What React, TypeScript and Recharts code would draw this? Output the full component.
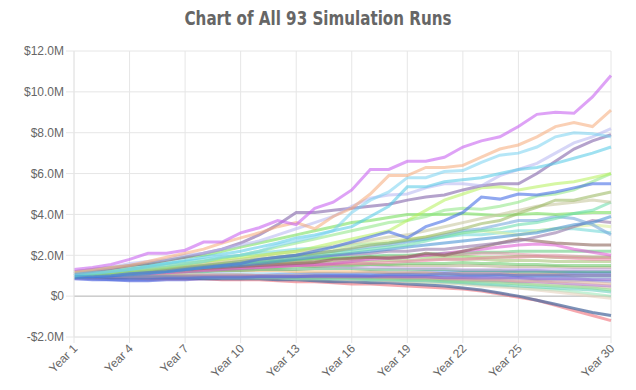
import React from "react";
import { LineChart, Line, XAxis, YAxis, CartesianGrid, ReferenceLine } from "recharts";

const YEARS = [1, 2, 3, 4, 5, 6, 7, 8, 9, 10, 11, 12, 13, 14, 15, 16, 17, 18, 19, 20, 21, 22, 23, 24, 25, 26, 27, 28, 29, 30];
const X_TICKS = [1, 4, 7, 10, 13, 16, 19, 22, 25, 30];
const Y_TICKS = [-2, 0, 2, 4, 6, 8, 10, 12];

// values in $M, one array per simulation run
const RUN_VIOLET = [1.3, 1.4, 1.55, 1.8, 2.1, 2.1, 2.25, 2.65, 2.65, 3.1, 3.35, 3.7, 3.5, 4.3, 4.6, 5.2, 6.2, 6.2, 6.6, 6.6, 6.8, 7.3, 7.6, 7.8, 8.3, 8.9, 9.0, 8.95, 9.75, 10.8];
const RUN_PEACH = [1.2, 1.3, 1.4, 1.5, 1.7, 1.9, 2.1, 2.3, 2.6, 2.85, 3.1, 3.4, 3.6, 3.3, 3.9, 4.3, 5.0, 5.9, 5.9, 6.3, 6.3, 6.4, 6.8, 7.2, 7.4, 7.8, 8.3, 8.5, 8.3, 9.1];
const RUN_SKY = [1.1, 1.15, 1.2, 1.3, 1.4, 1.5, 1.6, 1.7, 1.9, 2.0, 2.2, 2.5, 2.7, 2.9, 3.2, 4.1, 4.7, 5.1, 5.8, 5.8, 6.1, 6.15, 6.55, 6.9, 7.0, 7.3, 7.8, 8.0, 7.95, 7.8];
const RUN_CYAN = [1.0, 1.1, 1.2, 1.3, 1.45, 1.6, 1.75, 1.9, 2.05, 2.2, 2.4, 2.6, 2.85, 3.0, 3.2, 3.4, 3.9, 4.4, 5.35, 5.35, 5.6, 5.7, 5.8, 6.0, 6.2, 6.3, 6.5, 6.75, 7.0, 7.3];
const RUN_LAVENDER = [1.2, 1.3, 1.4, 1.6, 1.7, 1.8, 2.0, 2.1, 2.3, 2.5, 2.7, 3.0, 3.3, 3.6, 3.9, 4.4, 4.8, 4.95, 5.0, 5.3, 5.5, 5.5, 5.4, 5.9, 6.2, 6.5, 7.0, 7.5, 7.8, 8.2];
const RUN_GREYPURPLE = [1.1, 1.2, 1.35, 1.5, 1.6, 1.75, 1.9, 2.1, 2.3, 2.6, 3.0, 3.5, 4.1, 4.1, 4.2, 4.3, 4.4, 4.5, 4.7, 4.85, 4.95, 5.2, 5.4, 5.5, 5.5, 6.0, 6.6, 7.2, 7.6, 7.9];
const RUN_BLUE = [1.0, 0.95, 1.0, 1.1, 1.15, 1.2, 1.3, 1.4, 1.5, 1.6, 1.8, 1.9, 2.0, 2.2, 2.4, 2.65, 2.9, 3.15, 2.85, 3.4, 3.7, 4.1, 4.85, 4.75, 5.0, 4.95, 5.1, 5.3, 5.5, 5.5];
const RUN_LIME = [1.1, 1.15, 1.2, 1.3, 1.4, 1.5, 1.6, 1.7, 1.8, 1.9, 2.0, 2.1, 2.2, 2.4, 2.6, 2.8, 3.0, 3.2, 3.7, 4.2, 4.7, 5.0, 5.3, 5.35, 5.2, 5.35, 5.5, 5.6, 5.8, 6.0];
const RUN_LIGHTGREEN = [1.0, 1.05, 1.1, 1.2, 1.3, 1.4, 1.55, 1.7, 1.85, 2.0, 2.2, 2.4, 2.6, 2.8, 3.0, 3.2, 3.4, 3.6, 3.7, 3.9, 4.2, 4.3, 4.25, 4.4, 4.6, 4.9, 5.0, 5.2, 5.6, 6.0];
const RUN_OLIVE = [1.0, 1.05, 1.1, 1.15, 1.2, 1.3, 1.4, 1.5, 1.6, 1.7, 1.8, 1.9, 2.0, 2.1, 2.2, 2.35, 2.5, 2.6, 2.75, 2.9, 3.1, 3.3, 3.55, 3.7, 4.05, 4.35, 4.7, 4.7, 4.9, 5.1];
const RUN_KHAKI = [1.1, 1.1, 1.15, 1.2, 1.3, 1.4, 1.5, 1.6, 1.7, 1.8, 1.95, 2.1, 2.2, 2.3, 2.45, 2.6, 2.75, 2.9, 3.0, 3.2, 3.4, 3.6, 3.8, 4.0, 4.2, 4.4, 4.5, 4.6, 4.7, 4.6];
const RUN_TEAL = [1.0, 1.0, 1.05, 1.1, 1.15, 1.2, 1.3, 1.4, 1.5, 1.6, 1.7, 1.8, 1.9, 2.0, 2.1, 2.2, 2.3, 2.4, 2.5, 2.7, 2.9, 3.1, 3.2, 3.3, 3.5, 3.6, 3.8, 4.05, 4.2, 4.6];
const RUN_GREEN = [1.2, 1.3, 1.4, 1.5, 1.6, 1.75, 1.9, 2.0, 2.2, 2.4, 2.6, 2.8, 3.0, 3.2, 3.4, 3.6, 3.7, 3.85, 4.0, 4.0, 4.0, 4.05, 4.0, 3.95, 4.0, 4.05, 4.0, 4.05, 4.1, 4.1];
const RUN_STEEL = [1.0, 1.05, 1.1, 1.15, 1.2, 1.3, 1.4, 1.5, 1.6, 1.7, 1.8, 1.9, 2.0, 2.1, 2.2, 2.3, 2.4, 2.5, 2.65, 2.8, 3.0, 3.2, 3.3, 3.5, 3.7, 3.7, 3.9, 3.8, 3.5, 3.0];
const RUN_MIDBLUE = [0.9, 0.95, 1.0, 1.05, 1.1, 1.2, 1.3, 1.4, 1.45, 1.5, 1.6, 1.7, 1.8, 1.9, 2.0, 2.1, 2.2, 2.3, 2.4, 2.5, 2.6, 2.7, 2.8, 2.9, 3.0, 3.1, 3.3, 3.5, 3.6, 3.9];
const RUN_MAUVE = [1.1, 1.1, 1.15, 1.2, 1.25, 1.3, 1.4, 1.45, 1.5, 1.6, 1.7, 1.8, 1.9, 1.95, 2.0, 2.05, 2.1, 2.2, 2.2, 2.3, 2.3, 2.4, 2.5, 2.6, 2.7, 2.9, 3.1, 3.4, 3.7, 3.6];
const RUN_BROWN = [1.1, 1.1, 1.1, 1.15, 1.2, 1.25, 1.3, 1.35, 1.4, 1.45, 1.5, 1.55, 1.6, 1.65, 1.8, 1.85, 1.9, 1.85, 1.9, 2.1, 2.0, 2.2, 2.4, 2.6, 2.8, 2.7, 2.6, 2.55, 2.5, 2.5];
const RUN_MAGENTA = [1.0, 1.0, 1.05, 1.1, 1.1, 1.15, 1.2, 1.25, 1.3, 1.35, 1.4, 1.45, 1.5, 1.55, 1.6, 1.7, 1.8, 1.85, 1.9, 2.0, 2.1, 2.2, 2.3, 2.4, 2.5, 2.55, 2.5, 2.3, 2.15, 2.0];
const RUN_PALELIME = [1.2, 1.2, 1.25, 1.3, 1.35, 1.4, 1.5, 1.6, 1.7, 1.8, 1.9, 2.0, 2.1, 2.2, 2.3, 2.5, 2.6, 2.7, 2.8, 2.9, 3.0, 3.1, 3.2, 3.1, 3.0, 3.2, 3.3, 3.4, 3.5, 3.4];
const RUN_AQUA = [1.1, 1.2, 1.3, 1.4, 1.5, 1.6, 1.7, 1.8, 1.9, 2.0, 2.1, 2.2, 2.3, 2.35, 2.4, 2.5, 2.55, 2.6, 2.7, 2.8, 2.9, 3.0, 3.0, 3.1, 3.2, 3.2, 3.3, 3.3, 3.2, 3.1];
const RUN_PINK = [1.1, 1.1, 1.15, 1.2, 1.2, 1.25, 1.3, 1.3, 1.35, 1.4, 1.4, 1.45, 1.5, 1.5, 1.55, 1.6, 1.6, 1.65, 1.7, 1.75, 1.8, 1.8, 1.85, 1.9, 1.9, 1.95, 1.9, 1.85, 1.8, 1.8];
const RUN_FOREST = [1.0, 1.05, 1.1, 1.15, 1.2, 1.2, 1.25, 1.3, 1.3, 1.35, 1.4, 1.4, 1.45, 1.45, 1.5, 1.5, 1.55, 1.55, 1.6, 1.6, 1.6, 1.65, 1.6, 1.6, 1.55, 1.55, 1.5, 1.5, 1.5, 1.5];
const RUN_ROYAL = [0.9, 0.85, 0.8, 0.8, 0.8, 0.85, 0.85, 0.9, 0.9, 0.9, 0.95, 0.95, 0.95, 1.0, 1.0, 1.0, 1.0, 1.05, 1.05, 1.05, 1.1, 1.05, 1.05, 1.05, 1.0, 1.0, 1.0, 1.0, 1.0, 1.0];
const RUN_PURPLE = [1.0, 1.0, 0.95, 0.95, 0.95, 0.95, 0.95, 0.95, 0.95, 0.95, 0.95, 0.95, 0.95, 0.95, 0.95, 0.95, 0.95, 0.95, 0.95, 0.95, 0.9, 0.9, 0.9, 0.9, 0.9, 0.85, 0.85, 0.85, 0.8, 0.8];
const RUN_TAN = [1.1, 1.1, 1.1, 1.1, 1.1, 1.1, 1.05, 1.05, 1.05, 1.05, 1.0, 1.0, 1.0, 1.0, 0.95, 0.95, 0.95, 0.9, 0.9, 0.9, 0.85, 0.85, 0.8, 0.8, 0.75, 0.75, 0.7, 0.7, 0.65, 0.6];
const RUN_SPRING = [1.0, 1.0, 1.0, 1.0, 1.0, 1.0, 1.0, 0.95, 0.95, 0.95, 0.95, 0.95, 0.9, 0.9, 0.9, 0.9, 0.85, 0.85, 0.8, 0.8, 0.75, 0.7, 0.7, 0.65, 0.6, 0.55, 0.5, 0.45, 0.4, 0.3];
const RUN_SEAFOAM = [0.95, 0.95, 0.95, 0.95, 0.95, 0.95, 0.95, 0.9, 0.9, 0.9, 0.9, 0.9, 0.85, 0.85, 0.85, 0.85, 0.8, 0.8, 0.75, 0.75, 0.7, 0.65, 0.6, 0.55, 0.5, 0.45, 0.4, 0.35, 0.3, 0.2];
const RUN_BEIGE = [1.0, 1.0, 1.0, 0.95, 0.95, 0.95, 0.95, 0.95, 0.9, 0.9, 0.9, 0.9, 0.85, 0.85, 0.85, 0.8, 0.8, 0.75, 0.7, 0.7, 0.65, 0.6, 0.5, 0.45, 0.4, 0.3, 0.2, 0.1, 0.0, -0.1];
const RUN_SLATE = [0.95, 0.95, 0.9, 0.9, 0.9, 0.9, 0.9, 0.85, 0.85, 0.85, 0.85, 0.8, 0.8, 0.75, 0.7, 0.7, 0.65, 0.65, 0.6, 0.55, 0.5, 0.4, 0.3, 0.15, 0.0, -0.2, -0.4, -0.6, -0.8, -0.95];
const RUN_RED = [0.9, 0.9, 0.9, 0.9, 0.85, 0.85, 0.85, 0.85, 0.8, 0.8, 0.8, 0.75, 0.7, 0.7, 0.65, 0.6, 0.6, 0.55, 0.5, 0.45, 0.4, 0.35, 0.25, 0.1, -0.05, -0.2, -0.45, -0.7, -0.95, -1.2];
const RUN_LILAC = [1.2, 1.25, 1.3, 1.35, 1.35, 1.4, 1.45, 1.5, 1.5, 1.55, 1.5, 1.5, 1.5, 1.45, 1.45, 1.4, 1.4, 1.4, 1.35, 1.35, 1.35, 1.3, 1.3, 1.3, 1.3, 1.3, 1.3, 1.3, 1.3, 1.3];
const RUN_MOSS = [1.1, 1.15, 1.2, 1.25, 1.3, 1.35, 1.4, 1.45, 1.5, 1.5, 1.55, 1.6, 1.6, 1.65, 1.65, 1.7, 1.7, 1.75, 1.75, 1.8, 1.8, 1.8, 1.8, 1.75, 1.75, 1.75, 1.7, 1.7, 1.7, 1.7];
const RUN_SEAGREEN = [1.0, 1.05, 1.1, 1.1, 1.15, 1.15, 1.2, 1.2, 1.25, 1.25, 1.3, 1.3, 1.3, 1.35, 1.35, 1.35, 1.3, 1.3, 1.3, 1.3, 1.3, 1.25, 1.25, 1.25, 1.2, 1.2, 1.2, 1.2, 1.2, 1.2];
const RUN_PLUM = [1.05, 1.05, 1.05, 1.0, 1.0, 1.0, 1.0, 1.0, 1.0, 1.0, 1.0, 0.95, 0.95, 0.95, 0.95, 0.9, 0.9, 0.9, 0.85, 0.85, 0.8, 0.8, 0.75, 0.75, 0.7, 0.7, 0.65, 0.6, 0.55, 0.5];
const RUN_ORANGE = [1.1, 1.1, 1.15, 1.15, 1.2, 1.2, 1.2, 1.25, 1.25, 1.25, 1.25, 1.25, 1.2, 1.2, 1.2, 1.2, 1.2, 1.15, 1.15, 1.15, 1.1, 1.1, 1.1, 1.1, 1.05, 1.05, 1.05, 1.0, 1.0, 1.0];
const RUN_MINT = [0.95, 0.95, 0.95, 0.9, 0.9, 0.9, 0.9, 0.9, 0.9, 0.85, 0.85, 0.85, 0.85, 0.8, 0.8, 0.8, 0.75, 0.75, 0.7, 0.65, 0.65, 0.6, 0.55, 0.5, 0.4, 0.35, 0.3, 0.2, 0.1, 0.0];
const RUN_CORNFLOWER = [0.9, 0.9, 0.85, 0.85, 0.85, 0.9, 0.9, 0.95, 0.95, 1.0, 1.0, 1.05, 1.05, 1.1, 1.1, 1.1, 1.15, 1.15, 1.15, 1.2, 1.2, 1.2, 1.2, 1.2, 1.25, 1.25, 1.2, 1.2, 1.2, 1.2];
const RUN_ROSE = [1.05, 1.1, 1.15, 1.2, 1.25, 1.3, 1.35, 1.4, 1.45, 1.5, 1.55, 1.6, 1.65, 1.7, 1.75, 1.8, 1.85, 1.9, 1.95, 2.0, 2.0, 2.05, 2.1, 2.1, 2.05, 2.0, 2.0, 1.95, 1.9, 1.9];
const RUN_GRASS = [1.15, 1.2, 1.25, 1.3, 1.35, 1.4, 1.45, 1.5, 1.55, 1.6, 1.65, 1.7, 1.75, 1.8, 1.85, 1.85, 1.9, 1.9, 1.95, 1.95, 1.95, 1.95, 1.9, 1.9, 1.95, 1.95, 1.9, 1.9, 1.9, 1.9];
const RUN_PERIWINKLE = [1.0, 1.0, 1.0, 1.0, 1.0, 1.0, 1.0, 1.0, 1.0, 1.0, 1.0, 1.0, 1.0, 0.95, 0.95, 0.95, 0.95, 0.95, 0.9, 0.9, 0.9, 0.9, 0.85, 0.85, 0.85, 0.8, 0.8, 0.75, 0.75, 0.7];
const RUN_DARKKHAKI = [1.2, 1.2, 1.25, 1.3, 1.3, 1.35, 1.4, 1.4, 1.45, 1.45, 1.5, 1.5, 1.5, 1.55, 1.55, 1.55, 1.55, 1.5, 1.5, 1.5, 1.5, 1.5, 1.5, 1.45, 1.45, 1.45, 1.45, 1.4, 1.4, 1.4];
const RUN_ICE = [1.1, 1.1, 1.1, 1.1, 1.1, 1.1, 1.1, 1.1, 1.1, 1.1, 1.1, 1.1, 1.1, 1.1, 1.1, 1.05, 1.05, 1.05, 1.05, 1.0, 1.0, 1.0, 1.0, 0.95, 0.95, 0.95, 0.95, 0.9, 0.9, 0.9];
const RUN_PALELAV = [1.0, 0.95, 0.9, 0.85, 0.85, 0.9, 0.95, 1.0, 1.1, 1.05, 1.0, 0.95, 0.95, 1.0, 1.0, 1.05, 1.05, 1.05, 1.1, 1.1, 1.1, 1.15, 1.15, 1.15, 1.2, 1.2, 1.15, 1.15, 1.1, 1.1];
const RUN_JADE = [1.0, 1.05, 1.1, 1.2, 1.25, 1.3, 1.4, 1.45, 1.5, 1.6, 1.65, 1.7, 1.75, 1.8, 1.85, 1.9, 1.95, 2.0, 2.0, 2.05, 2.1, 2.1, 2.15, 2.15, 2.2, 2.2, 2.2, 2.2, 2.2, 2.2];
const RUN_INDIGO = [0.85, 0.8, 0.8, 0.75, 0.75, 0.8, 0.8, 0.85, 0.85, 0.85, 0.9, 0.9, 0.9, 0.9, 0.9, 0.95, 0.95, 0.95, 0.95, 1.0, 1.0, 1.0, 1.0, 1.05, 1.05, 1.05, 1.05, 1.1, 1.1, 1.1];
const RUN_SAND = [1.05, 1.05, 1.05, 1.05, 1.05, 1.0, 1.0, 1.0, 1.0, 1.0, 1.0, 1.0, 0.95, 0.95, 0.95, 0.9, 0.9, 0.9, 0.85, 0.85, 0.8, 0.75, 0.75, 0.7, 0.65, 0.6, 0.55, 0.5, 0.45, 0.4];

const RUNS: [number[], string][] = [
  [RUN_SAND, "rgba(225,200,170,0.55)"],
  [RUN_INDIGO, "rgba(70,90,220,0.6)"],
  [RUN_JADE, "rgba(90,200,120,0.55)"],
  [RUN_PALELAV, "rgba(190,180,235,0.6)"],
  [RUN_ICE, "rgba(140,200,230,0.55)"],
  [RUN_DARKKHAKI, "rgba(170,160,120,0.5)"],
  [RUN_PERIWINKLE, "rgba(140,160,230,0.55)"],
  [RUN_GRASS, "rgba(120,210,80,0.55)"],
  [RUN_ROSE, "rgba(220,140,160,0.5)"],
  [RUN_CORNFLOWER, "rgba(110,140,240,0.55)"],
  [RUN_MINT, "rgba(150,230,180,0.55)"],
  [RUN_ORANGE, "rgba(240,170,90,0.5)"],
  [RUN_PLUM, "rgba(170,110,200,0.55)"],
  [RUN_SEAGREEN, "rgba(70,170,110,0.5)"],
  [RUN_MOSS, "rgba(160,190,110,0.55)"],
  [RUN_LILAC, "rgba(200,160,230,0.5)"],
  [RUN_RED, "rgba(240,110,120,0.6)"],
  [RUN_SLATE, "rgba(80,110,160,0.75)"],
  [RUN_BEIGE, "rgba(230,210,190,0.6)"],
  [RUN_SEAFOAM, "rgba(80,200,180,0.5)"],
  [RUN_SPRING, "rgba(130,220,140,0.55)"],
  [RUN_TAN, "rgba(230,180,140,0.5)"],
  [RUN_PURPLE, "rgba(140,90,200,0.55)"],
  [RUN_ROYAL, "rgba(80,110,220,0.55)"],
  [RUN_FOREST, "rgba(100,200,100,0.55)"],
  [RUN_PINK, "rgba(240,130,170,0.55)"],
  [RUN_AQUA, "rgba(90,210,210,0.5)"],
  [RUN_PALELIME, "rgba(220,240,160,0.6)"],
  [RUN_MAGENTA, "rgba(220,80,210,0.55)"],
  [RUN_BROWN, "rgba(140,100,90,0.6)"],
  [RUN_MAUVE, "rgba(150,120,170,0.6)"],
  [RUN_MIDBLUE, "rgba(60,140,210,0.55)"],
  [RUN_STEEL, "rgba(120,170,220,0.6)"],
  [RUN_GREEN, "rgba(110,220,80,0.55)"],
  [RUN_TEAL, "rgba(100,220,170,0.55)"],
  [RUN_KHAKI, "rgba(200,200,160,0.6)"],
  [RUN_OLIVE, "rgba(150,180,90,0.55)"],
  [RUN_LIGHTGREEN, "rgba(140,230,130,0.55)"],
  [RUN_LIME, "rgba(180,240,90,0.55)"],
  [RUN_BLUE, "rgba(70,110,230,0.6)"],
  [RUN_GREYPURPLE, "rgba(130,100,170,0.6)"],
  [RUN_LAVENDER, "rgba(180,180,240,0.55)"],
  [RUN_CYAN, "rgba(80,200,230,0.55)"],
  [RUN_SKY, "rgba(120,210,240,0.55)"],
  [RUN_PEACH, "rgba(245,170,120,0.55)"],
  [RUN_VIOLET, "rgba(200,100,240,0.6)"],
];

const data = YEARS.map((year, i) => {
  const row: Record<string, number> = { year };
  RUNS.forEach(([vals], k) => {
    row[`r${k}`] = vals[i];
  });
  return row;
});

const FONT = '"Liberation Sans", Arial, Helvetica, sans-serif';

function money(v: number) {
  if (v === 0) return "$0";
  return `${v < 0 ? "-" : ""}$${Math.abs(v).toFixed(1)}M`;
}

function YearTick(props: any) {
  const { x, y, payload } = props;
  return (
    <text
      x={x + 2}
      y={y}
      textAnchor="end"
      dominantBaseline="middle"
      transform={`rotate(-45 ${x + 2} ${y})`}
      fill="#666"
      fontSize={12}
      fontFamily={FONT}
    >
      {`Year ${payload.value}`}
    </text>
  );
}

export default function App() {
  return (
    <div style={{ position: "absolute", left: 0, top: 0, width: 636, height: 390, background: "#fff" }}>
      <svg width={636} height={40} style={{ position: "absolute", left: 0, top: 0 }}>
        <text
          x={318}
          y={25}
          textAnchor="middle"
          fill="#666"
          fontSize={19}
          fontWeight="bold"
          fontFamily='"Liberation Sans Narrow", "DejaVu Sans Condensed", "Roboto", sans-serif'
          textLength={267}
          lengthAdjust="spacingAndGlyphs"
        >
          Chart of All 93 Simulation Runs
        </text>
      </svg>
      <div style={{ position: "absolute", left: 0, top: 0 }}>
        <LineChart width={636} height={390} data={data} margin={{ top: 51, right: 25, bottom: 0, left: 0 }}>
          <CartesianGrid stroke="#e6e6e6" strokeWidth={1} />
          <XAxis
            dataKey="year"
            type="number"
            domain={[1, 30]}
            ticks={X_TICKS}
            interval={0}
            height={53}
            tickSize={6}
            tickMargin={4}
            tickLine={{ stroke: "#e6e6e6" }}
            axisLine={{ stroke: "#e6e6e6" }}
            tick={<YearTick />}
          />
          <YAxis
            type="number"
            domain={[-2, 12]}
            ticks={Y_TICKS}
            interval={0}
            width={74}
            tickSize={8}
            tickMargin={2}
            tickFormatter={money}
            tickLine={{ stroke: "#e6e6e6" }}
            axisLine={{ stroke: "#e6e6e6" }}
            tick={{ fill: "#666", fontSize: 12, fontFamily: FONT }}
          />
          <ReferenceLine y={0} stroke="#bdbdbd" strokeWidth={1} />
          {RUNS.map(([, color], k) => (
            <Line
              key={k}
              dataKey={`r${k}`}
              type="linear"
              stroke={color}
              strokeWidth={3}
              dot={false}
              activeDot={false}
              isAnimationActive={false}
            />
          ))}
        </LineChart>
      </div>
    </div>
  );
}
